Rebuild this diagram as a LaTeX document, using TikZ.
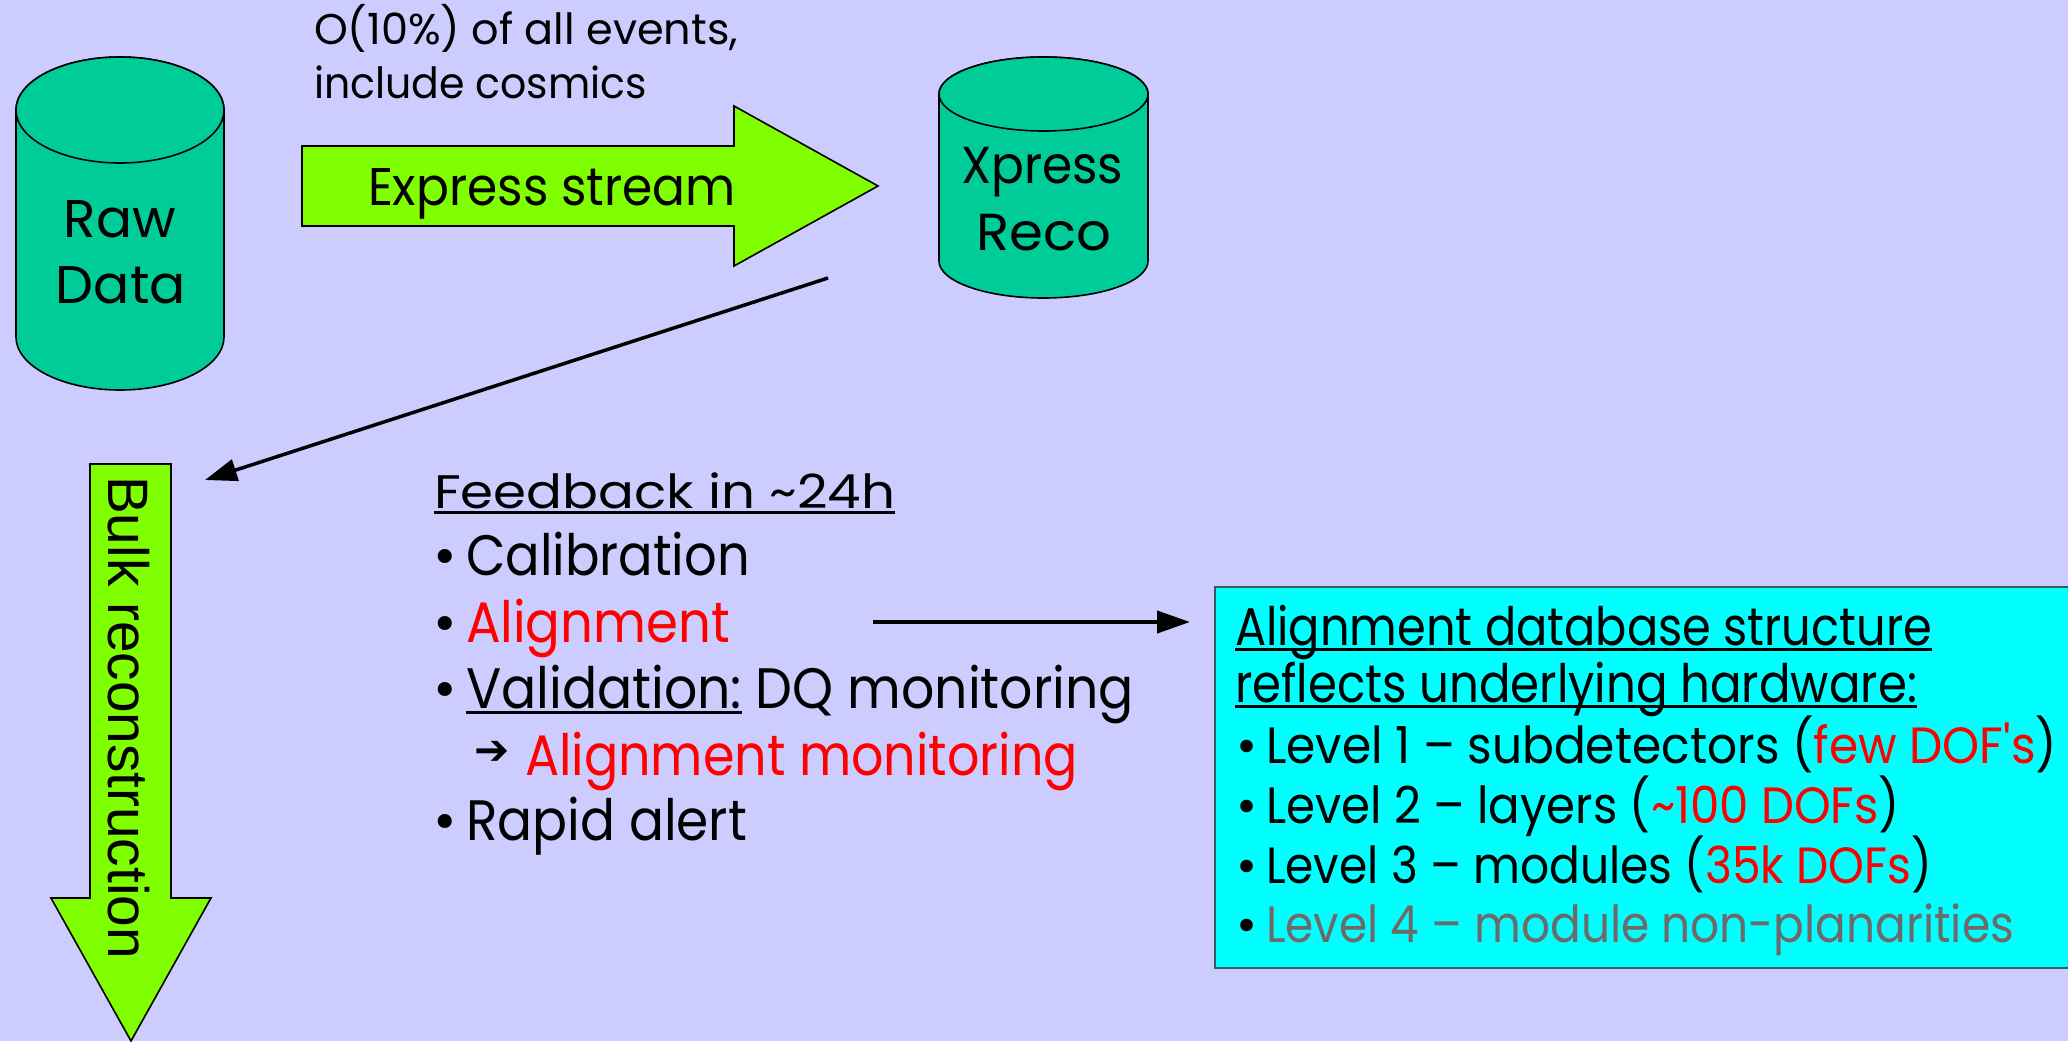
\documentclass[tikz,border=0pt]{standalone}
\usepackage{fontspec}
\setmainfont{Poppins}
\newfontfamily\arialfont{Liberation Sans}
\newfontfamily\symfont{DejaVu Sans}
\usetikzlibrary{arrows.meta}

\definecolor{bgblue}{HTML}{CCCCFF}
\definecolor{limegreen}{HTML}{80FF00}
\definecolor{dbteal}{HTML}{00CC99}
\definecolor{boxcyan}{HTML}{00FFFF}
\definecolor{boxedge}{HTML}{2F5F5F}
\definecolor{hlred}{HTML}{FF0000}
\definecolor{dimtext}{HTML}{6E6A6A}

% thick underline drawn under a piece of text
\newsavebox\ulbox
\newcommand\ulin[1]{\sbox\ulbox{#1}\rlap{\rule[-6pt]{\wd\ulbox}{3pt}}\usebox\ulbox}
% set a text to a given width, keeping its height
\newcommand\wfit[2]{\resizebox{#1pt}{\height}{#2}}

\tikzset{
  txt/.style={inner sep=0pt, outer sep=0pt, anchor=base west, text=black},
  bigtxt/.style={txt, font=\fontsize{57}{60}\selectfont},
  midtxt/.style={txt, font=\fontsize{51}{56}\selectfont},
  smalltxt/.style={txt, font=\fontsize{43}{50}\selectfont},
  headtxt/.style={txt, font=\fontsize{47}{52}\selectfont},
  dblabel/.style={inner sep=0pt, outer sep=0pt, anchor=base, font=\fontsize{53}{60}\selectfont},
  greenshape/.style={fill=limegreen, draw=black, line width=1.6pt, line join=miter},
  dbshape/.style={fill=dbteal, draw=black, line width=1.6pt},
  link/.style={draw=black, line width=4pt, -{Triangle[length=33pt,width=22pt]}},
}

\begin{document}
\begin{tikzpicture}[x=1pt, y=-1pt]
  % page and background
  \useasboundingbox (0,0) rectangle (2068,1041);
  \fill[bgblue] (0,0) rectangle (2068,1041);

  % ---- Raw Data cylinder
  \path[dbshape] (16,110) -- (16,337)
     arc[start angle=180, end angle=0, x radius=104, y radius=53]
     -- (224,110)
     arc[start angle=0, end angle=-180, x radius=104, y radius=53] -- cycle;
  \draw[dbshape] (120,110) ellipse[x radius=104, y radius=53];
  \node[dblabel] (raw1) at (120,237) {\wfit{112}{Raw}};
  \node[dblabel] (raw2) at (121,303) {\wfit{130}{Data}};

  % ---- Xpress Reco cylinder
  \path[dbshape] (939,94) -- (939,261)
     arc[start angle=180, end angle=0, x radius=104.5, y radius=37]
     -- (1148,94)
     arc[start angle=0, end angle=-180, x radius=104.5, y radius=37] -- cycle;
  \draw[dbshape] (1043.5,94) ellipse[x radius=104.5, y radius=37];
  \node[dblabel, font=\fontsize{52}{60}\selectfont] (xp1) at (1042,183) {\wfit{162}{Xpress}};
  \node[dblabel, font=\fontsize{52}{60}\selectfont] (xp2) at (1044,250) {\wfit{135}{Reco}};

  % ---- Express stream block arrow
  \path[greenshape] (302,146) -- (734,146) -- (734,106) -- (878,186)
     -- (734,266) -- (734,226) -- (302,226) -- cycle;
  \node[txt, font=\fontsize{53}{60}\selectfont] (express) at (368,205) {\wfit{368}{Express stream}};
  \node[smalltxt] (note1) at (314,45) {\wfit{424}{O(10\%) of all events,}};
  \node[smalltxt] (note2) at (314,98) {\wfit{333}{include cosmics}};

  % ---- Bulk reconstruction block arrow
  \path[greenshape] (90,464) -- (171,464) -- (171,898) -- (211,898)
     -- (131,1041) -- (51,898) -- (90,898) -- cycle;
  \node[txt, rotate=-90, font=\arialfont\fontsize{57}{60}\selectfont]
     (bulk) at (108,476) {\wfit{483}{Bulk reconstruction}};

  % ---- feedback from the express reconstruction
  \coordinate (xpfoot) at (828,278);
  \coordinate (bulkin) at (205,480);
  \draw[link, line width=3.5pt, -{Triangle[length=32pt,width=22pt]}] (xpfoot) -- (bulkin);

  \node[headtxt] (fbhead) at (434,508) {\wfit{461}{\ulin{Feedback in \textasciitilde24h}}};
  \node[bigtxt] (b1) at (433,575) {•};
  \node[bigtxt] (fb1) at (466,575) {\wfit{284}{Calibration}};
  \node[bigtxt] (b2) at (433,642) {•};
  \node[bigtxt, text=hlred] (fb2) at (466,642) {\wfit{264}{Alignment}};
  \node[bigtxt] (b3) at (433,708) {•};
  \node[bigtxt] (fb3) at (466,708) {\wfit{668}{\ulin{Validation:} DQ monitoring}};
  \node[inner sep=0pt, outer sep=0pt, anchor=center, font=\symfont\fontsize{42}{44}\selectfont] (sub) at (492,753) {➔};
  \node[bigtxt, text=hlred] (fb4) at (525,775) {\wfit{553}{Alignment monitoring}};
  \node[bigtxt] (b5) at (433,840) {•};
  \node[bigtxt] (fb5) at (466,840) {\wfit{281}{Rapid alert}};

  % ---- alignment database box
  \draw[fill=boxcyan, draw=boxedge, line width=1.6pt] (1215,587) rectangle (2090,968);
  \node[midtxt, font=\fontsize{53}{56}\selectfont] (db1) at (1235,645) {\wfit{697}{\ulin{Alignment database structure}}};
  \node[midtxt, font=\fontsize{53}{56}\selectfont] (db2) at (1235,702) {\wfit{682}{\ulin{reflects underlying hardware:}}};
  \node[midtxt] (c1) at (1236,763) {•};
  \node[midtxt] (lv1) at (1266,763) {\wfit{791}{Level 1 – subdetectors ({\color{hlred}few DOF\textquotesingle s})}};
  \node[midtxt] (c2) at (1236,823) {•};
  \node[midtxt] (lv2) at (1266,823) {\wfit{634}{Level 2 – layers ({\color{hlred}\textasciitilde100 DOFs})}};
  \node[midtxt] (c3) at (1236,883) {•};
  \node[midtxt] (lv3) at (1266,883) {\wfit{666}{Level 3 – modules ({\color{hlred}35k DOFs})}};
  \node[midtxt] (c4) at (1236,942) {•};
  \node[midtxt, text=dimtext] (lv4) at (1266,942) {\wfit{748}{Level 4 – module non-planarities}};

  \coordinate (alfrom) at (873,622);
  \coordinate (boxin) at (1190,622);
  \draw[link] (alfrom) -- (boxin);
\end{tikzpicture}
\end{document}
